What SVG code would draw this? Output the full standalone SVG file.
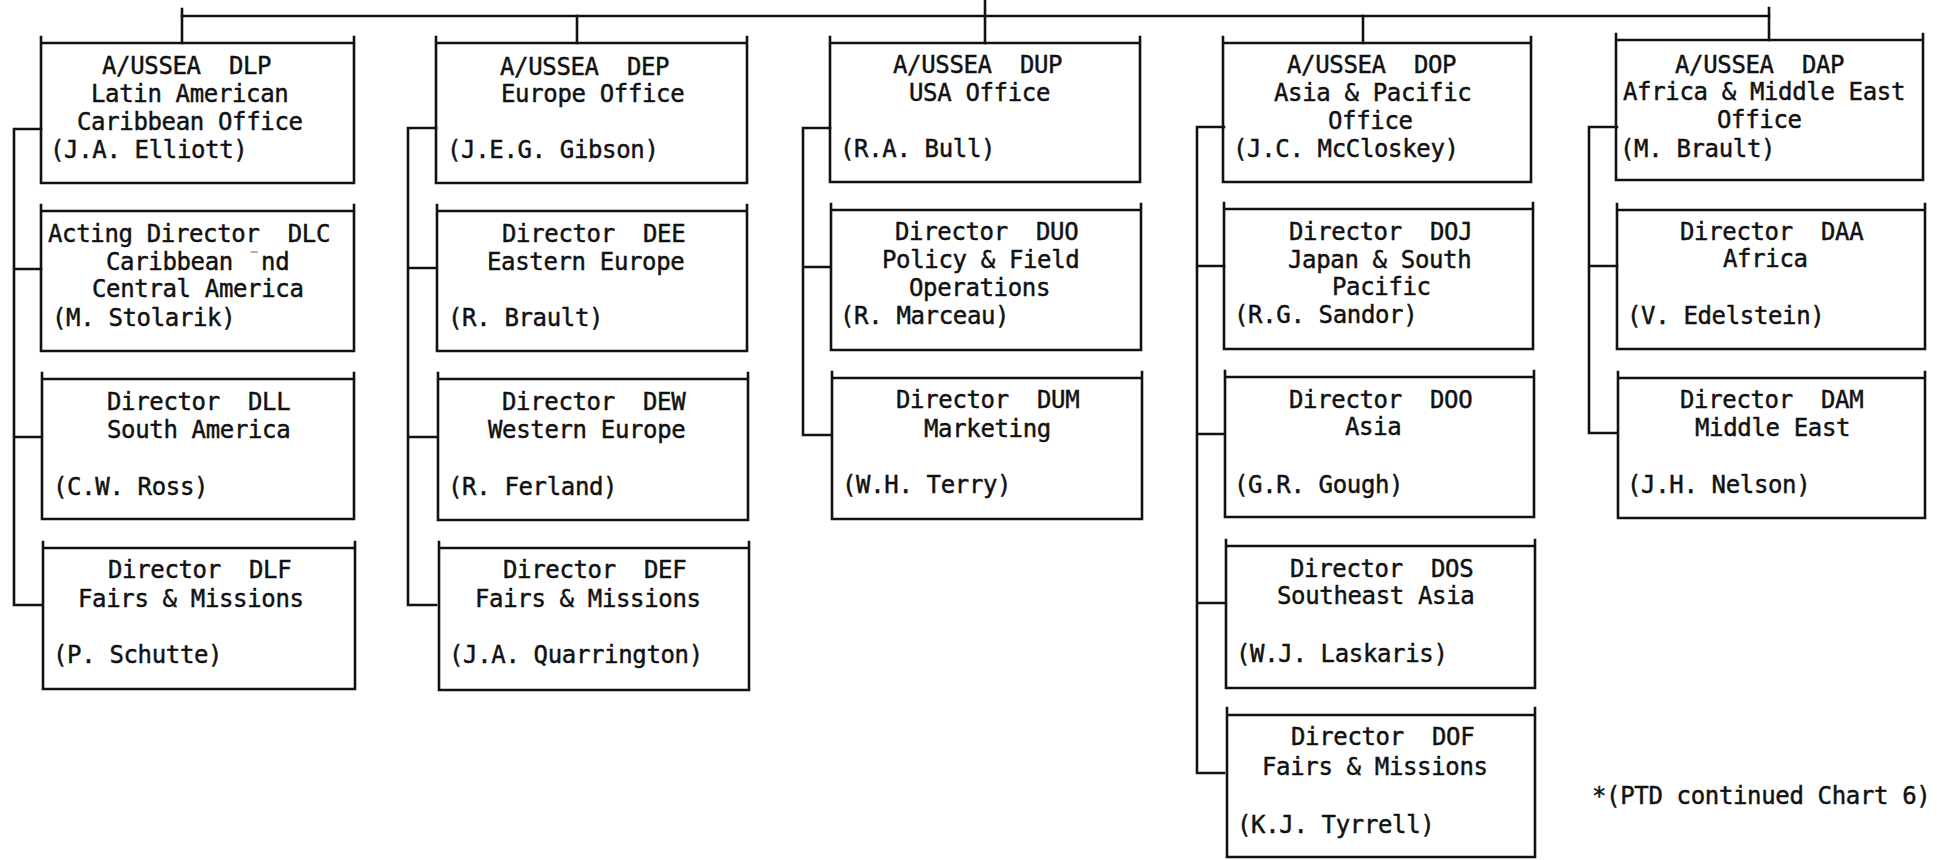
<svg xmlns="http://www.w3.org/2000/svg" width="1937" height="860" viewBox="0 0 1937 860">
<style>
text { font-family: "DejaVu Sans Mono", "Liberation Mono", monospace; font-size: 24px; letter-spacing: -0.35px; fill: #111; stroke: #111; stroke-width: 0.45px; white-space: pre; }
.box, .conn { fill: none; stroke: #111; stroke-width: 2.6; stroke-linecap: square; stroke-linejoin: miter; }
</style>
<rect width="1937" height="860" fill="#fff"/>
<g id="connectors">
<path class="conn" d="M182,16 H1769"/>
<path class="conn" d="M985,0 V43"/>
<path class="conn" d="M182,9 V43 M577,16 V43 M1363,16 V43 M1769,8 V40"/>
<path class="conn" d="M41,129 H14 V605 H41 M14,269 H41 M14,437 H41"/>
<path class="conn" d="M436,128 H408 V605 H436 M408,268 H436 M408,437 H436"/>
<path class="conn" d="M830,128 H803 V435 H830 M803,267 H830"/>
<path class="conn" d="M1224,127 H1197 V773 H1224 M1197,266 H1224 M1197,434 H1224 M1197,603 H1224"/>
<path class="conn" d="M1617,127 H1589 V433 H1617 M1589,266 H1617"/>
</g>
<g id="DLP"><path class="box" d="M41,37 V183 H354 V37 M41,43 H354"/>
<text x="102" y="74">A/USSEA  DLP</text><text x="91" y="102">Latin American</text><text x="77" y="130">Caribbean Office</text><text x="50" y="158">(J.A. Elliott)</text></g>
<g id="DLC"><path class="box" d="M41,205 V351 H354 V205 M41,211 H354"/>
<text x="48" y="242">Acting Director  DLC</text><text x="106" y="270">Caribbean <tspan fill="#aaa" stroke="none">ˉ</tspan>nd</text><text x="92" y="297">Central America</text><text x="52" y="326">(M. Stolarik)</text></g>
<g id="DLL"><path class="box" d="M42,373 V519 H354 V373 M42,379 H354"/>
<text x="107" y="410">Director  DLL</text><text x="107" y="438">South America</text><text x="53" y="495">(C.W. Ross)</text></g>
<g id="DLF"><path class="box" d="M43,542 V689 H355 V542 M43,548 H355"/>
<text x="108" y="578">Director  DLF</text><text x="78" y="607">Fairs &amp; Missions</text><text x="53" y="663">(P. Schutte)</text></g>

<g id="DEP"><path class="box" d="M436,37 V183 H747 V37 M436,43 H747"/>
<text x="500" y="75">A/USSEA  DEP</text><text x="501" y="102">Europe Office</text><text x="447" y="158">(J.E.G. Gibson)</text></g>
<g id="DEE"><path class="box" d="M437,205 V351 H747 V205 M437,211 H747"/>
<text x="502" y="242">Director  DEE</text><text x="487" y="270">Eastern Europe</text><text x="448" y="326">(R. Brault)</text></g>
<g id="DEW"><path class="box" d="M438,373 V520 H748 V373 M438,379 H748"/>
<text x="502" y="410">Director  DEW</text><text x="488" y="438">Western Europe</text><text x="448" y="495">(R. Ferland)</text></g>
<g id="DEF"><path class="box" d="M439,542 V690 H749 V542 M439,548 H749"/>
<text x="503" y="578">Director  DEF</text><text x="475" y="607">Fairs &amp; Missions</text><text x="449" y="663">(J.A. Quarrington)</text></g>

<g id="DUP"><path class="box" d="M830,37 V182 H1140 V37 M830,43 H1140"/>
<text x="893" y="73">A/USSEA  DUP</text><text x="909" y="101">USA Office</text><text x="840" y="157">(R.A. Bull)</text></g>
<g id="DUO"><path class="box" d="M831,204 V350 H1141 V204 M831,210 H1141"/>
<text x="895" y="240">Director  DUO</text><text x="882" y="268">Policy &amp; Field</text><text x="909" y="296">Operations</text><text x="840" y="324">(R. Marceau)</text></g>
<g id="DUM"><path class="box" d="M832,372 V519 H1142 V372 M832,378 H1142"/>
<text x="896" y="408">Director  DUM</text><text x="924" y="437">Marketing</text><text x="842" y="493">(W.H. Terry)</text></g>

<g id="DOP"><path class="box" d="M1223,37 V182 H1531 V37 M1223,43 H1531"/>
<text x="1287" y="73">A/USSEA  DOP</text><text x="1274" y="101">Asia &amp; Pacific</text><text x="1328" y="129">Office</text><text x="1233" y="157">(J.C. McCloskey)</text></g>
<g id="DOJ"><path class="box" d="M1224,203 V349 H1533 V203 M1224,209 H1533"/>
<text x="1289" y="240">Director  DOJ</text><text x="1288" y="268">Japan &amp; South</text><text x="1332" y="295">Pacific</text><text x="1234" y="323">(R.G. Sandor)</text></g>
<g id="DOO"><path class="box" d="M1225,371 V517 H1534 V371 M1225,377 H1534"/>
<text x="1289" y="408">Director  DOO</text><text x="1345" y="435">Asia</text><text x="1234" y="493">(G.R. Gough)</text></g>
<g id="DOS"><path class="box" d="M1226,540 V688 H1535 V540 M1226,546 H1535"/>
<text x="1290" y="577">Director  DOS</text><text x="1277" y="604">Southeast Asia</text><text x="1236" y="662">(W.J. Laskaris)</text></g>
<g id="DOF"><path class="box" d="M1227,708 V857 H1535 V708 M1227,715 H1535"/>
<text x="1291" y="745">Director  DOF</text><text x="1262" y="775">Fairs &amp; Missions</text><text x="1237" y="833">(K.J. Tyrrell)</text></g>

<g id="DAP"><path class="box" d="M1616,34 V180 H1923 V34 M1616,40 H1923"/>
<text x="1675" y="73">A/USSEA  DAP</text><text x="1623" y="100">Africa &amp; Middle East</text><text x="1717" y="128">Office</text><text x="1620" y="157">(M. Brault)</text></g>
<g id="DAA"><path class="box" d="M1617,204 V349 H1925 V204 M1617,210 H1925"/>
<text x="1680" y="240">Director  DAA</text><text x="1723" y="267">Africa</text><text x="1627" y="324">(V. Edelstein)</text></g>
<g id="DAM"><path class="box" d="M1618,372 V518 H1925 V372 M1618,378 H1925"/>
<text x="1680" y="408">Director  DAM</text><text x="1695" y="436">Middle East</text><text x="1627" y="493">(J.H. Nelson)</text></g>

<g id="footnote"><text x="1592" y="804">*(PTD continued Chart 6)</text></g>
</svg>
